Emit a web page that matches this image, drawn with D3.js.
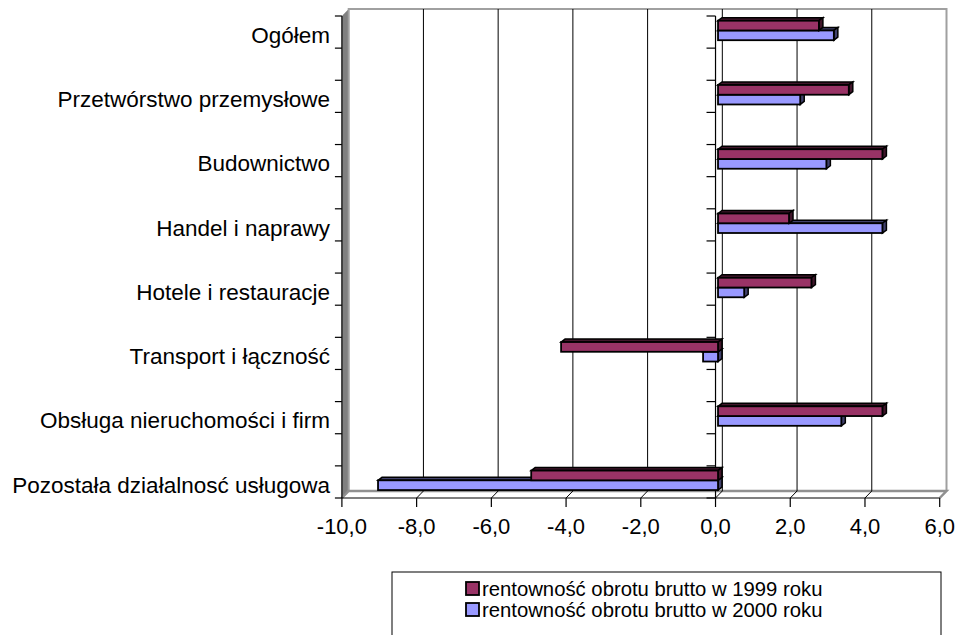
<!DOCTYPE html>
<html><head><meta charset="utf-8">
<script src="https://cdn.jsdelivr.net/npm/d3@7"></script>
<style>
html,body{margin:0;padding:0;background:#fff;}
svg{display:block;font-family:"Liberation Sans",Arial,sans-serif;}
</style></head>
<body>
<svg id="chart" width="958" height="635"></svg>
<script>
const categories = ["Ogółem","Przetwórstwo przemysłowe","Budownictwo","Handel i naprawy","Hotele i restauracje","Transport i łączność","Obsługa nieruchomości i firm","Pozostała działalnosć usługowa"];
const seriesNames = ["rentowność obrotu brutto w 1999 roku","rentowność obrotu brutto w 2000 roku"];
const values1999 = [2.7, 3.5, 4.4, 1.9, 2.5, -4.2, 4.4, -5.0];
const values2000 = [3.1, 2.2, 2.9, 4.4, 0.7, -0.4, 3.3, -9.1];
const xTickValues = [-10,-8,-6,-4,-2,0,2,4,6];
const seriesColors = ["#993366","#9999FF"];

const svg = d3.select("#chart");
const locale = d3.formatLocale({decimal:",",thousands:" ",grouping:[3],currency:["","zł"],minus:"-"});
const fmt = locale.format(".1f");

// front plane geometry
const x = d3.scaleLinear().domain([-10,6]).range([341.9,939.7]);
const yTop = 16, yBottom = 498;
const step = (yBottom - yTop)/7.5;
const y = d3.scaleBand().domain(categories).range([yTop, yTop + step*categories.length]).padding(0);
const inner = d3.scaleBand().domain(seriesNames).range([4.7, 24.2]).padding(0);
const D = {dx:6.8, dy:-7};   // chart depth
const B = {off:2.5, dx:4, dy:-3}; // bar position / bar depth

// left side wall
svg.append("path")
  .attr("d",`M${x(-10)},${yTop} L${x(-10)+D.dx},${yTop+D.dy} L${x(-10)+D.dx},${yBottom+D.dy} L${x(-10)},${yBottom} Z`)
  .attr("fill","#808080");

// back wall border
const bx0 = x(-10)+D.dx, bx1 = x(6)+D.dx, by0 = yTop+D.dy, by1 = yBottom+D.dy;
svg.append("path")
  .attr("d",`M${bx0},${by1} L${bx0},${by0} L${bx1},${by0} L${bx1},${by1}`)
  .attr("fill","none").attr("stroke","#a0a0a0").attr("stroke-width",2);

// floor
svg.append("path")
  .attr("d",`M${x(-10)},${yBottom} L${bx0},${by1} L${bx1},${by1} L${x(6)},${yBottom}`)
  .attr("fill","none").attr("stroke","#909090").attr("stroke-width",2.5);

// gridlines on back wall and floor
const grid = xTickValues.filter(v => v > -10 && v < 6);
svg.append("g").selectAll("line").data(grid).join("line")
  .attr("x1",d=>x(d)+D.dx).attr("x2",d=>x(d)+D.dx)
  .attr("y1",by0).attr("y2",by1)
  .attr("stroke","#000").attr("stroke-width",1);
svg.append("g").selectAll("line").data(grid).join("line")
  .attr("x1",d=>x(d)+D.dx).attr("x2",d=>x(d))
  .attr("y1",by1).attr("y2",yBottom)
  .attr("stroke","#000").attr("stroke-width",1);

// x axis (front)
svg.append("line").attr("x1",x(-10)).attr("x2",x(6)).attr("y1",yBottom).attr("y2",yBottom)
  .attr("stroke","#000").attr("stroke-width",1.2);
const xt = svg.append("g");
xt.selectAll("line").data(xTickValues).join("line")
  .attr("x1",d=>x(d)).attr("x2",d=>x(d)).attr("y1",yBottom).attr("y2",yBottom+9)
  .attr("stroke","#000").attr("stroke-width",1.2);
xt.selectAll("text").data(xTickValues).join("text")
  .attr("x",d=>x(d)).attr("y",534).attr("text-anchor","middle")
  .attr("font-size",22).attr("fill","#000").text(d=>fmt(d));

// category axis ticks
const catTicks = [];
categories.forEach(c => { catTicks.push(y(c)); if (y(c)+step/2 <= yBottom+0.5) catTicks.push(y(c)+step/2); });
svg.append("line").attr("x1",x(-10)).attr("x2",x(-10)).attr("y1",yTop).attr("y2",yBottom)
  .attr("stroke","#000").attr("stroke-width",1.2);
svg.append("g").selectAll("line").data(catTicks).join("line")
  .attr("x1",x(-10)-7).attr("x2",x(-10)).attr("y1",d=>d).attr("y2",d=>d)
  .attr("stroke","#000").attr("stroke-width",1.2);
// axis at zero
svg.append("line").attr("x1",x(0)).attr("x2",x(0)).attr("y1",yTop).attr("y2",yBottom)
  .attr("stroke","#000").attr("stroke-width",1.2);
svg.append("g").selectAll("line").data(catTicks).join("line")
  .attr("x1",x(0)-9).attr("x2",x(0)).attr("y1",d=>d).attr("y2",d=>d)
  .attr("stroke","#000").attr("stroke-width",1.2);

// category labels
svg.append("g").selectAll("text").data(categories).join("text")
  .attr("x",330).attr("y",d=>y(d)+19).attr("dy","0.35em").attr("text-anchor","end")
  .attr("font-size",22.5).attr("fill","#000").text(d=>d);

// bars
const seriesData = [values1999, values2000];
function darker(c){ return d3.color(c).darker(2.4).formatHex(); }
const barData = [];
[1,0].forEach(si => {
  categories.forEach((c,i) => barData.push({s:si, cat:c, v:seriesData[si][i]}));
});
const bars = svg.append("g").selectAll("g").data(barData).join("g");
bars.each(function(d){
  const g = d3.select(this);
  const xa = x(0)+B.off, xb = x(d.v)+B.off;
  const x0 = Math.min(xa,xb), x1 = Math.max(xa,xb);
  const y0 = y(d.cat)+inner(seriesNames[d.s]), y1 = y0+inner.bandwidth();
  const col = seriesColors[d.s], dk = darker(col);
  g.append("path").attr("d",`M${x0},${y0} L${x0+B.dx},${y0+B.dy} L${x1+B.dx},${y0+B.dy} L${x1},${y0} Z`)
    .attr("fill",dk).attr("stroke","#000").attr("stroke-width",1.5).attr("stroke-linejoin","miter");
  g.append("path").attr("d",`M${x1},${y0} L${x1+B.dx},${y0+B.dy} L${x1+B.dx},${y1+B.dy} L${x1},${y1} Z`)
    .attr("fill",dk).attr("stroke","#000").attr("stroke-width",1.5);
  g.append("rect").attr("x",x0).attr("y",y0).attr("width",x1-x0).attr("height",y1-y0)
    .attr("fill",col).attr("stroke","#000").attr("stroke-width",1.8);
});

// legend
const lg = svg.append("g");
lg.append("rect").attr("x",392).attr("y",572).attr("width",549).attr("height",90)
  .attr("fill","#fff").attr("stroke","#000").attr("stroke-width",1);
const li = lg.selectAll("g").data(seriesNames).join("g")
  .attr("transform",(d,i)=>`translate(466,${582+i*21})`);
li.append("rect").attr("width",13).attr("height",13).attr("fill",(d,i)=>seriesColors[i])
  .attr("stroke","#000").attr("stroke-width",1.8);
li.append("text").attr("x",16).attr("y",7).attr("dy","0.36em").attr("font-size",20.3)
  .attr("fill","#000").text(d=>d);
</script>
</body></html>
